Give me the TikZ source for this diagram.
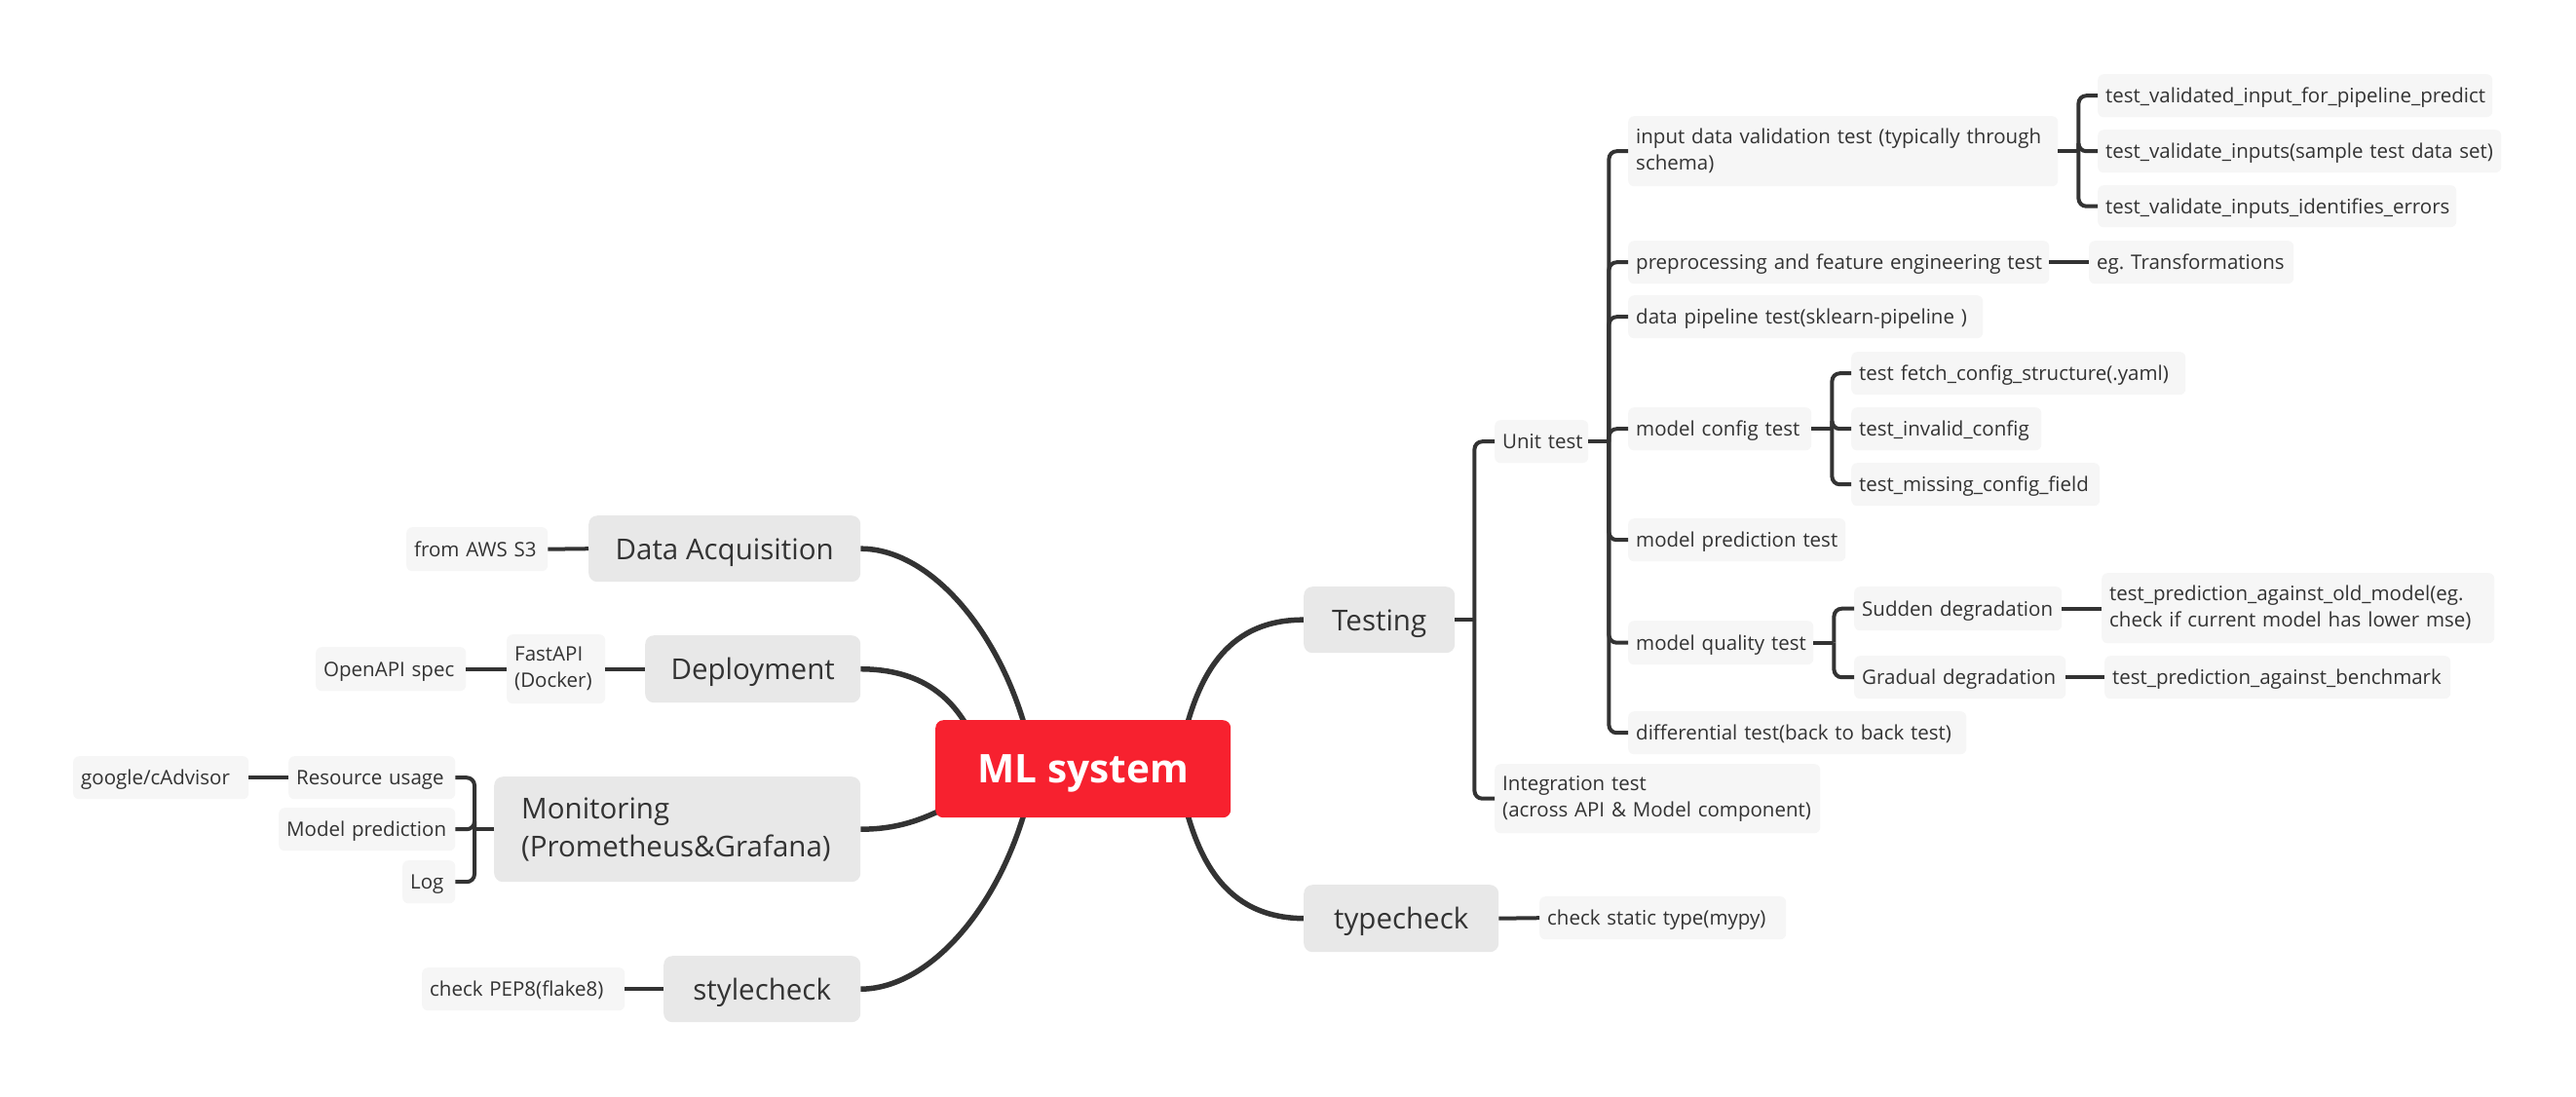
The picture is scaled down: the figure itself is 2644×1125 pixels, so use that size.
\documentclass[tikz,border=0pt]{standalone}
\usepackage{fontspec}
\setmainfont{Open Sans}
\usetikzlibrary{backgrounds}
\frenchspacing
\definecolor{rootred}{HTML}{F7212F}
\definecolor{mainfill}{HTML}{E8E8E8}
\definecolor{subfill}{HTML}{F6F6F6}
\definecolor{ink}{HTML}{333333}
\definecolor{linec}{HTML}{333333}
\newcommand\subf{\fontsize{20.5}{27}\selectfont}
\newcommand\mainf{\fontsize{29.5}{39}\selectfont}
\newcommand\rootf{\fontsize{40.5}{50}\selectfont\bfseries}
\newcommand\myl[1]{\mbox{#1}}
\tikzset{
  subbase/.style={fill=subfill, rounded corners=6pt, inner xsep=8pt, inner ysep=0pt,
    anchor=north west, font=\subf, text=ink, align=left, minimum height=44pt},
  sub/.style={subbase, text height=15.2pt, text depth=0pt},
  subtwo/.style={subbase},
  mainnode/.style={fill=mainfill, rounded corners=9pt, inner sep=0pt,
    anchor=north west, font=\mainf, text=ink, minimum height=68pt,
    text height=22pt, text depth=0pt},
  rootnode/.style={fill=rootred, rounded corners=8pt, inner sep=0pt,
    anchor=north west, font=\rootf, text=white, minimum width=303pt, minimum height=100pt,
    text height=29pt, text depth=0pt},
  curve/.style={draw=linec, line width=5.5pt},
  stub/.style={draw=linec, line width=4pt, rounded corners=8pt},
}
\begin{document}
\begin{tikzpicture}[x=1pt,y=-1pt]
\useasboundingbox (0,0) rectangle (2644,1125);
% root
\node[rootnode] (root) at (960,739) {ML system};
% main branches
\node[mainnode, minimum width=279pt] (da) at (604,529) {Data Acquisition};
\node[mainnode, minimum width=221pt, minimum height=69pt] (dep) at (662,652) {Deployment};
\node[fill=mainfill, rounded corners=9pt, anchor=north west, font=\mainf, text=ink,
  text width=320pt, inner xsep=28pt, inner ysep=0pt, minimum height=108pt, align=left] (mon) at (507,797)
  {\myl{Monitoring}\\\myl{(Prometheus\&Grafana)}};
\node[mainnode, minimum width=202pt] (sty) at (681,981) {stylecheck};
\node[mainnode, minimum width=155pt] (tst) at (1338,602) {Testing};
\node[mainnode, minimum width=200pt, minimum height=69pt] (typ) at (1338,908) {typecheck};
% left sub nodes
\node[sub, text width=129pt, minimum height=45pt] (s3) at (417,541) {\myl{from AWS S3}};
\node[subtwo, text width=85pt, minimum height=71pt] (fast) at (520,651) {\myl{FastAPI}\\\myl{(Docker)}};
\node[sub, text width=138pt, minimum height=45pt] (oapi) at (324,664) {\myl{OpenAPI spec}};
\node[sub, text width=155pt] (res) at (296,776) {\myl{Resource usage}};
\node[sub, text width=165pt] (mpred) at (286,829) {\myl{Model prediction}};
\node[sub, text width=38pt] (log) at (413,883) {\myl{Log}};
\node[sub, text width=164pt] (cadv) at (75,776) {\myl{google/cAdvisor}};
\node[sub, text width=192pt] (pep) at (433,993) {\myl{check PEP8(flake8)}};
% right sub nodes
\node[sub, text width=237pt] (mypy) at (1580,920) {\myl{check static type(mypy)}};
\node[sub, text width=80pt] (unit) at (1534,431) {\myl{Unit test}};
\node[subtwo, text width=318pt, minimum height=71pt] (integ) at (1534,784) {\myl{Integration test}\\\myl{(across API \& Model component)}};
\node[subtwo, text width=425pt, minimum height=72pt] (idv) at (1671,119) {\myl{input data validation test (typically through}\\\myl{schema)}};
\node[sub, text width=416pt] (pre) at (1671,247) {\myl{preprocessing and feature engineering test}};
\node[sub, text width=348pt] (dpt) at (1671,303) {\myl{data pipeline test(sklearn-pipeline )}};
\node[sub, text width=172pt] (mct) at (1671,418) {\myl{model config test}};
\node[sub, text width=207pt] (mpt) at (1671,532) {\myl{model prediction test}};
\node[sub, text width=174pt, minimum height=45pt] (mqt) at (1671,637) {\myl{model quality test}};
\node[sub, text width=331pt] (diff) at (1671,730) {\myl{differential test(back to back test)}};
\node[sub, text width=389pt] (t1) at (2153,76) {\myl{test\_validated\_input\_for\_pipeline\_predict}};
\node[sub, text width=398pt] (t2) at (2153,133) {\myl{test\_validate\_inputs(sample test data set)}};
\node[sub, text width=352pt, minimum height=43pt] (t3) at (2153,190) {\myl{test\_validate\_inputs\_identifies\_errors}};
\node[sub, text width=194pt] (egt) at (2144,247) {\myl{eg. Transformations}};
\node[sub, text width=327pt] (c1) at (1900,361) {\myl{test fetch\_config\_structure(.yaml)}};
\node[sub, text width=179pt] (c2) at (1900,418) {\myl{test\_invalid\_config}};
\node[sub, text width=239pt] (c3) at (1900,475) {\myl{test\_missing\_config\_field}};
\node[sub, text width=197pt, minimum height=45pt] (sud) at (1903,602) {\myl{Sudden degradation}};
\node[sub, text width=201pt] (grad) at (1903,673) {\myl{Gradual degradation}};
\node[subtwo, text width=387pt, minimum height=72pt] (old) at (2157,588) {\myl{test\_prediction\_against\_old\_model(eg.}\\\myl{check if current model has lower mse)}};
\node[sub, text width=339pt] (bench) at (2160,673) {\myl{test\_prediction\_against\_benchmark}};
% curve end points (hidden under the root)
\coordinate (eDA) at (1057,765);
\coordinate (eDep) at (1000,760);
\coordinate (eMon) at (985,822);
\coordinate (eSty) at (1057,813);
\coordinate (eTst) at (1213,765);
\coordinate (eTyp) at (1213,813);
\begin{scope}[on background layer]
\fill[white] (0,0) rectangle (2644,1125);
\draw[curve] (da.east) .. controls (955,563) and (1030,650) .. (eDA);
\draw[curve] (dep.east) .. controls (945,687) and (980,715) .. (eDep);
\draw[curve] (mon.east) .. controls (925,851) and (950,840) .. (eMon);
\draw[curve] (sty.east) .. controls (955,1015) and (1030,928) .. (eSty);
\draw[curve] (tst.west) .. controls (1255,636) and (1228,700) .. (eTst);
\draw[curve] (typ.west) .. controls (1255,942) and (1228,878) .. (eTyp);
\end{scope}
% straight connectors
\draw[stub] (s3.east) -- (da.west);
\draw[stub] (fast.east) -- (dep.west);
\draw[stub] (oapi.east) -- (fast.west);
\draw[stub] (cadv.east) -- (res.west);
\draw[stub] (pep.east) -- (sty.west);
\draw[stub] (typ.east) -- (mypy.west);
\draw[stub] (pre.east) -- (egt.west);
\draw[stub] (sud.east) -- (old.west |- sud.east);
\draw[stub] (grad.east) -- (bench.west);
% brackets
\draw[stub] (mon.west) -- ++(-20,0) coordinate (jMon);
\foreach \c in {res,mpred,log} \draw[stub] (jMon) |- (\c.east);
\draw[stub] (tst.east) -- ++(20,0) coordinate (jTst);
\foreach \c in {unit,integ} \draw[stub] (jTst) |- (\c.west);
\draw[stub] (unit.east) -- ++(21,0) coordinate (jUnit);
\foreach \c in {idv,pre,dpt,mct,mpt,mqt,diff} \draw[stub] (jUnit) |- (\c.west);
\draw[stub] (idv.east) -- ++(21,0) coordinate (jIdv);
\foreach \c in {t1,t2,t3} \draw[stub] (jIdv) |- (\c.west);
\draw[stub] (mct.east) -- ++(21,0) coordinate (jMct);
\foreach \c in {c1,c2,c3} \draw[stub] (jMct) |- (\c.west);
\draw[stub] (mqt.east) -- ++(21,0) coordinate (jMqt);
\foreach \c in {sud,grad} \draw[stub] (jMqt) |- (\c.west);
\end{tikzpicture}
\end{document}
